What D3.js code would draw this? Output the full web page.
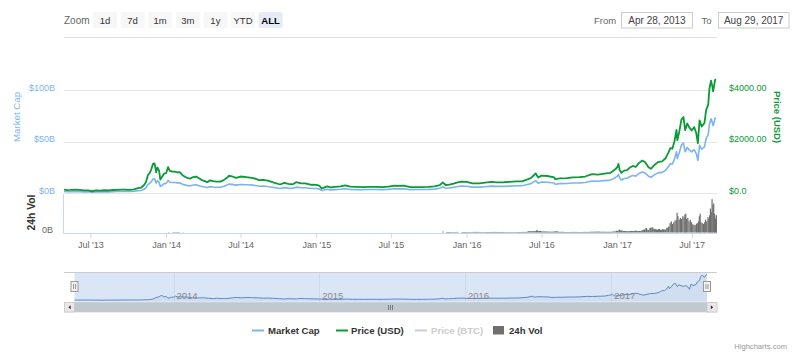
<!DOCTYPE html>
<html><head><meta charset="utf-8">
<script src="https://cdn.jsdelivr.net/npm/d3@7"></script>
<style>
html,body{margin:0;padding:0;background:#fff;}
svg{display:block;font-family:"Liberation Sans",Arial,sans-serif;}
</style></head><body>
<svg id="c" width="798" height="352"></svg>
<script>
// ---------------- DATA ----------------
const dates = [
 "2013-04-28","2013-05-05","2013-05-15","2013-05-25","2013-06-05","2013-06-15","2013-06-25","2013-07-05","2013-07-15","2013-07-25","2013-08-05","2013-08-15","2013-08-25","2013-09-05","2013-09-15","2013-09-25","2013-10-05","2013-10-15","2013-10-25","2013-11-01","2013-11-08","2013-11-13","2013-11-18","2013-11-22","2013-11-26","2013-11-30","2013-12-04","2013-12-08","2013-12-11","2013-12-15","2013-12-18","2013-12-22","2013-12-27",
 "2014-01-01","2014-01-06","2014-01-10","2014-01-16","2014-01-22","2014-01-28","2014-02-03","2014-02-10","2014-02-17","2014-02-23","2014-03-01","2014-03-08","2014-03-15","2014-03-22","2014-03-29","2014-04-05","2014-04-11","2014-04-18","2014-04-25","2014-05-03","2014-05-12","2014-05-20","2014-05-28","2014-06-03","2014-06-10","2014-06-20","2014-07-01","2014-07-15","2014-08-01","2014-08-15","2014-08-25","2014-09-05","2014-09-20","2014-10-05","2014-10-15","2014-10-25","2014-11-05","2014-11-13","2014-11-25","2014-12-05","2014-12-20",
 "2015-01-01","2015-01-08","2015-01-14","2015-01-20","2015-01-27","2015-02-05","2015-02-15","2015-03-01","2015-03-12","2015-03-25","2015-04-10","2015-04-25","2015-05-10","2015-05-25","2015-06-10","2015-06-25","2015-07-10","2015-07-20","2015-08-01","2015-08-18","2015-09-01","2015-09-15","2015-10-01","2015-10-15","2015-10-28","2015-11-04","2015-11-11","2015-11-20","2015-12-01","2015-12-10","2015-12-20",
 "2016-01-01","2016-01-15","2016-02-01","2016-02-15","2016-03-01","2016-03-15","2016-04-01","2016-04-15","2016-05-01","2016-05-15","2016-05-28","2016-06-05","2016-06-12","2016-06-17","2016-06-23","2016-07-01","2016-07-15","2016-08-01","2016-08-03","2016-08-15","2016-09-01","2016-09-15","2016-10-01","2016-10-15","2016-11-01","2016-11-15","2016-12-01","2016-12-15","2016-12-25",
 "2017-01-01","2017-01-04","2017-01-07","2017-01-11","2017-01-18","2017-01-25","2017-02-01","2017-02-08","2017-02-15","2017-02-23","2017-03-03","2017-03-10","2017-03-18","2017-03-24","2017-04-01","2017-04-10","2017-04-20","2017-04-28","2017-05-05","2017-05-10","2017-05-15","2017-05-20","2017-05-25","2017-05-27","2017-06-01","2017-06-06","2017-06-11","2017-06-15","2017-06-20","2017-06-25","2017-07-01","2017-07-07","2017-07-12","2017-07-16","2017-07-20","2017-07-25","2017-08-01","2017-08-05","2017-08-10","2017-08-13","2017-08-17","2017-08-20","2017-08-22","2017-08-27","2017-08-29"
];
const priceUSD = [
 135,115,118,131,121,100,102,68,98,95,106,98,117,125,128,133,122,143,185,205,300,420,700,775,910,1130,1147,800,990,870,520,620,750,
 770,1010,860,830,830,800,810,690,620,580,560,620,640,570,500,460,420,490,460,440,440,490,580,670,650,590,640,620,580,500,510,480,400,330,390,355,335,420,375,375,320,
 315,290,175,210,260,220,235,260,295,245,235,225,240,238,230,245,290,275,282,225,228,230,237,255,305,410,310,325,362,415,440,
 430,375,372,400,435,415,417,430,450,455,530,580,680,760,600,675,660,610,540,570,575,610,615,640,730,710,750,780,890,
 1000,1130,900,780,870,890,990,1050,1010,1170,1260,1190,1000,940,1080,1200,1230,1340,1560,1740,1720,2000,2450,2050,2400,2850,2950,2440,2700,2550,2430,2560,2330,1930,2820,2580,2720,3220,3420,4050,4360,4150,3950,4400,4420
];
const marketCapB = [
 1.50,1.28,1.32,1.46,1.36,1.13,1.15,0.77,1.11,1.08,1.21,1.12,1.35,1.44,1.48,1.55,1.43,1.68,2.18,2.43,3.56,5.00,8.34,9.25,10.88,13.54,13.76,9.62,11.91,10.48,6.27,7.49,9.08,
 9.33,12.27,10.47,10.13,10.15,9.81,9.96,8.51,7.66,7.19,6.96,7.72,7.99,7.13,6.27,5.78,5.29,6.19,5.82,5.59,5.61,6.26,7.44,8.61,8.37,7.62,8.30,8.08,7.60,6.58,6.73,6.36,5.32,4.41,5.23,4.77,4.52,5.68,5.09,5.10,4.37,
 4.32,3.98,2.41,2.90,3.59,3.05,3.27,3.63,4.13,3.44,3.32,3.19,3.42,3.40,3.30,3.53,4.20,3.99,4.11,3.29,3.35,3.39,3.51,3.79,4.54,6.12,4.63,4.87,5.44,6.25,6.64,
 6.51,5.70,5.67,6.12,6.69,6.40,6.46,6.68,7.02,7.12,8.32,9.12,10.71,11.99,9.47,10.68,10.46,9.68,8.57,9.06,9.16,9.73,9.83,10.24,11.69,11.39,12.05,12.54,14.33,
 16.08,18.18,14.49,12.56,14.02,14.36,16.00,16.99,16.36,18.97,20.44,19.31,16.24,15.28,17.57,19.54,20.05,21.86,25.46,28.41,28.10,32.70,40.08,33.54,39.29,46.68,48.35,39.99,44.28,41.85,39.90,42.06,38.31,31.75,46.39,42.47,44.80,53.07,56.40,66.83,71.98,68.56,65.25,72.73,73.11
];
const volDates = [
 "2014-01-06","2014-01-09","2014-01-16","2014-02-10","2014-02-13",
 "2015-11-03","2015-11-06","2015-11-12","2015-11-25","2015-12-08","2015-12-12","2015-12-20",
 "2016-01-01","2016-01-15","2016-02-01","2016-02-15","2016-03-01","2016-03-15","2016-04-01","2016-04-15","2016-05-01","2016-05-15","2016-05-28","2016-06-10","2016-06-17","2016-06-23","2016-07-01","2016-07-15","2016-08-01","2016-08-10","2016-08-25","2016-09-10","2016-09-25","2016-10-10","2016-10-25","2016-11-05","2016-11-20","2016-12-05","2016-12-20","2016-12-28",
 "2017-01-04","2017-01-08","2017-01-14","2017-01-22","2017-02-01","2017-02-10","2017-02-20","2017-03-01","2017-03-05","2017-03-10","2017-03-15","2017-03-20","2017-03-25","2017-03-30","2017-04-05","2017-04-10","2017-04-15","2017-04-20","2017-04-25","2017-04-30","2017-05-04","2017-05-08","2017-05-11","2017-05-14","2017-05-17","2017-05-20","2017-05-23","2017-05-25","2017-05-27","2017-05-30",
 "2017-06-02","2017-06-05","2017-06-08","2017-06-11","2017-06-13","2017-06-15","2017-06-17","2017-06-20","2017-06-23","2017-06-26","2017-06-29","2017-07-02","2017-07-05","2017-07-08","2017-07-11","2017-07-13","2017-07-16","2017-07-18","2017-07-20","2017-07-22","2017-07-25","2017-07-28","2017-07-31",
 "2017-08-02","2017-08-05","2017-08-08","2017-08-10","2017-08-12","2017-08-14","2017-08-16","2017-08-18","2017-08-20","2017-08-22","2017-08-24","2017-08-26","2017-08-28","2017-08-29"
];
const volumeB = [
 0.05,0.00,0.04,0.03,0.00,
 0.12,0.00,0.06,0.05,0.08,0.00,0.06,
 0.05,0.07,0.05,0.06,0.07,0.06,0.05,0.05,0.06,0.07,0.15,0.16,0.25,0.18,0.12,0.10,0.14,0.08,0.06,0.07,0.06,0.07,0.09,0.10,0.09,0.08,0.12,0.20,
 0.32,0.25,0.18,0.15,0.18,0.20,0.18,0.28,0.35,0.50,0.30,0.55,0.60,0.42,0.35,0.40,0.32,0.38,0.35,0.55,0.70,1.10,1.30,1.00,1.20,1.40,1.50,2.30,1.90,1.50,
 1.70,1.60,1.90,1.80,2.10,2.20,1.60,1.70,1.30,1.50,1.20,0.95,0.90,0.85,1.00,1.10,1.30,1.90,2.20,1.20,1.10,1.00,1.20,
 1.50,1.30,1.80,1.60,2.00,2.80,2.40,3.90,3.20,3.40,2.20,1.60,2.00,2.00
];
const xTickDates = ["2013-07-01","2014-01-01","2014-07-01","2015-01-01","2015-07-01","2016-01-01","2016-07-01","2017-01-01","2017-07-01"];
const xTickLabels = ["Jul '13","Jan '14","Jul '14","Jan '15","Jul '15","Jan '16","Jul '16","Jan '17","Jul '17"];
const capTicks = [0, 50, 100];
const capTickLabels = ["$0B", "$50B", "$100B"];
const priceTicks = [0, 2000, 4000];
const priceTickLabels = ["$0.0", "$2000.00", "$4000.00"];
const volTicks = [0];
const volTickLabels = ["0B"];
const navYearDates = ["2014-01-01","2015-01-01","2016-01-01","2017-01-01"];
const navYearLabels = ["2014","2015","2016","2017"];
const zoomButtons = ["1d","7d","1m","3m","1y","YTD","ALL"];
const selectedZoom = "ALL";
const fromLabel = "Apr 28, 2013", toLabel = "Aug 29, 2017";
const legendNames = ["Market Cap","Price (USD)","Price (BTC)","24h Vol"];
const domainStart = "2013-04-28", domainEnd = "2017-08-29";

// ---------------- SETUP ----------------
const parse = d3.timeParse("%Y-%m-%d");
const svg = d3.select("#c");
const C = {cap:"#7cb5ec", price:"#0a9a36", vol:"#6f6f6f", btc:"#cccccc", axis:"#ccd6eb", grid:"#e6e6e6", text:"#666"};
const F = "Liberation Sans, Arial, sans-serif";

const series = dates.map((d,i)=>({date:parse(d), price:priceUSD[i], cap:marketCapB[i]}));
const vols = volDates.map((d,i)=>({date:parse(d), v:volumeB[i]}));

const x = d3.scaleTime().domain([parse(domainStart), parse(domainEnd)]).range([64, 716]);
const yCap = d3.scaleLinear().domain([0,100]).range([193, 90]);
const yPrice = d3.scaleLinear().domain([0,4000]).range([193, 90]);
const yVol = d3.scaleLinear().domain([0,4.5]).range([232.5, 194]);
const xNav = d3.scaleTime().domain([parse(domainStart), parse(domainEnd)]).range([74.5, 707]);
const yNav = d3.scaleLinear().domain([0,75]).range([300.5, 274]);

// ---------------- RANGE SELECTOR ----------------
svg.append("text").attr("x",64).attr("y",23.5).attr("font-size",10).attr("fill","#666").attr("font-family",F).text("Zoom");
const zb = svg.append("g").selectAll("g").data(zoomButtons).join("g")
  .attr("transform",(d,i)=>`translate(${93+i*27.6},12)`);
zb.append("rect").attr("width",24).attr("height",16).attr("rx",2)
  .attr("fill",d=>d===selectedZoom?"#e6ebf5":"#f7f7f7");
zb.append("text").attr("x",12).attr("y",11.5).attr("text-anchor","middle").attr("font-size",9.5)
  .attr("font-family",F).attr("font-weight",d=>d===selectedZoom?"bold":"normal")
  .attr("fill",d=>d===selectedZoom?"#000":"#333").text(d=>d);

svg.append("text").attr("x",594).attr("y",23.5).attr("font-size",9.5).attr("fill","#666").attr("font-family",F).text("From");
svg.append("rect").attr("x",621.5).attr("y",12.5).attr("width",71).attr("height",15.5).attr("fill","#fff").attr("stroke","#ccc");
svg.append("text").attr("x",657).attr("y",23.5).attr("text-anchor","middle").attr("font-size",10).attr("fill","#444").attr("font-family",F).text(fromLabel);
svg.append("text").attr("x",701.5).attr("y",23.5).attr("font-size",9.5).attr("fill","#666").attr("font-family",F).text("To");
svg.append("rect").attr("x",718.5).attr("y",12.5).attr("width",70.5).attr("height",15.5).attr("fill","#fff").attr("stroke","#ccc");
svg.append("text").attr("x",753.7).attr("y",23.5).attr("text-anchor","middle").attr("font-size",10).attr("fill","#444").attr("font-family",F).text(toLabel);
svg.append("line").attr("x1",64).attr("x2",717).attr("y1",37.5).attr("y2",37.5).attr("stroke","#e0e0e0");

// ---------------- GRID ----------------
svg.append("g").selectAll("line").data(capTicks).join("line")
  .attr("x1",64).attr("x2",717).attr("y1",d=>Math.round(yCap(d))+0.5).attr("y2",d=>Math.round(yCap(d))+0.5)
  .attr("stroke",C.grid);

const gL = svg.append("g").attr("transform","translate(55,0)")
  .call(d3.axisLeft(yCap).tickValues(capTicks).tickFormat((d,i)=>capTickLabels[i]).tickSize(0).tickPadding(0));
gL.select(".domain").remove();
gL.selectAll("text").attr("fill",C.cap).attr("font-size",9).attr("font-family",F).attr("dy","0.05em");

const gR = svg.append("g").attr("transform","translate(729,0)")
  .call(d3.axisRight(yPrice).tickValues(priceTicks).tickFormat((d,i)=>priceTickLabels[i]).tickSize(0).tickPadding(0));
gR.select(".domain").remove();
gR.selectAll("text").attr("fill",C.price).attr("font-size",9).attr("font-family",F).attr("dy","0.05em");

const gV = svg.append("g").attr("transform","translate(53,0)")
  .call(d3.axisLeft(yVol).tickValues(volTicks).tickFormat((d,i)=>volTickLabels[i]).tickSize(0).tickPadding(0));
gV.select(".domain").remove();
gV.selectAll("text").attr("fill","#666").attr("font-size",9).attr("font-family",F).attr("dy","0.05em");

svg.append("text").attr("transform","translate(20,117) rotate(-90)").attr("text-anchor","middle")
  .attr("font-size",9.7).attr("fill",C.cap).attr("font-family",F).text("Market Cap");
svg.append("text").attr("transform","translate(774,117) rotate(90)").attr("text-anchor","middle")
  .attr("font-size",9.5).attr("font-weight","bold").attr("fill",C.price).attr("font-family",F).text("Price (USD)");
svg.append("text").attr("transform","translate(34.5,212.5) rotate(-90)").attr("text-anchor","middle")
  .attr("font-size",10.3).attr("font-weight","bold").attr("fill","#333").attr("font-family",F).text("24h Vol");

// ---------------- VOLUME ----------------
svg.append("defs").append("clipPath").attr("id","pc").append("rect").attr("x",64).attr("y",60).attr("width",653).attr("height",175);
const vg = svg.append("g").attr("clip-path","url(#pc)");
vg.selectAll("rect").data(vols.filter(d=>d.v>0)).join("rect")
  .attr("x",d=>x(d.date))
  .attr("width",d=>{const i=vols.indexOf(d); return Math.max(1.2, (i<vols.length-1? Math.min(8, x(vols[i+1].date)-x(d.date)) : 1.5));})
  .attr("y",d=>yVol(d.v)).attr("height",d=>yVol(0)-yVol(d.v))
  .attr("fill",C.vol);

svg.append("line").attr("x1",63.5).attr("x2",63.5).attr("y1",194).attr("y2",233).attr("stroke",C.axis);
const gX = svg.append("g").attr("transform","translate(0,233)")
  .call(d3.axisBottom(x).tickValues(xTickDates.map(parse)).tickFormat((d,i)=>xTickLabels[i]).tickSize(5).tickPadding(4));
gX.select(".domain").attr("d","M63.5,0.5H717").attr("stroke",C.axis);
gX.selectAll(".tick line").attr("stroke",C.axis);
gX.selectAll("text").attr("fill","#666").attr("font-size",9).attr("font-family",F);

// ---------------- LINES ----------------
const lg = svg.append("g").attr("clip-path","url(#pc)");
lg.append("path").datum(series).attr("fill","none").attr("stroke",C.cap).attr("stroke-width",1.6)
  .attr("stroke-linejoin","round")
  .attr("d",d3.line().x(d=>x(d.date)).y(d=>yCap(d.cap)));
lg.append("path").datum(series).attr("fill","none").attr("stroke",C.price).attr("stroke-width",1.8)
  .attr("stroke-linejoin","round")
  .attr("d",d3.line().x(d=>x(d.date)).y(d=>yPrice(d.price)));

// ---------------- NAVIGATOR ----------------
svg.append("rect").attr("x",74.5).attr("y",272).attr("width",632.5).attr("height",30).attr("fill","#dae5f5");
svg.append("g").selectAll("line").data(navYearDates).join("line")
  .attr("x1",d=>Math.round(xNav(parse(d)))+0.5).attr("x2",d=>Math.round(xNav(parse(d)))+0.5)
  .attr("y1",272).attr("y2",302).attr("stroke","#cfd9e8");
svg.append("path").datum(series).attr("fill","rgba(69,114,167,0.06)")
  .attr("d",d3.area().x(d=>xNav(d.date)).y0(301).y1(d=>yNav(d.cap)));
svg.append("path").datum(series).attr("fill","none").attr("stroke","#5d8ac7").attr("stroke-width",1)
  .attr("d",d3.line().x(d=>xNav(d.date)).y(d=>yNav(d.cap)));
svg.append("g").selectAll("text").data(navYearDates).join("text")
  .attr("x",d=>xNav(parse(d))+3).attr("y",298.5).attr("font-size",9.5).attr("fill","#888").attr("font-family",F)
  .text((d,i)=>navYearLabels[i]);
svg.append("line").attr("x1",64).attr("x2",717).attr("y1",272.5).attr("y2",272.5).attr("stroke","#ccc");
[74.5,707].forEach(hx=>{
  svg.append("rect").attr("x",hx-3.5).attr("y",281.5).attr("width",7).attr("height",10).attr("fill","#f2f2f2").attr("stroke","#999");
  svg.append("line").attr("x1",hx-1).attr("x2",hx-1).attr("y1",284).attr("y2",289).attr("stroke","#999");
  svg.append("line").attr("x1",hx+1).attr("x2",hx+1).attr("y1",284).attr("y2",289).attr("stroke","#999");
});
svg.append("rect").attr("x",64.5).attr("y",302.5).attr("width",652).attr("height",9.5).attr("fill","#f2f2f2").attr("stroke","#ddd");
svg.append("rect").attr("x",74.5).attr("y",302.5).attr("width",632.5).attr("height",9.5).attr("fill","#c0c8d0");
[64.5,707].forEach((bx,i)=>{
  svg.append("rect").attr("x",bx).attr("y",302.5).attr("width",10).attr("height",9.5).attr("fill","#ebe7e8").attr("stroke","#ccc");
  const cx = bx+5, cy = 307.25;
  svg.append("path").attr("d", i===0 ? `M${cx+1.2},${cy-2}L${cx-1.2},${cy}L${cx+1.2},${cy+2}Z` : `M${cx-1.2},${cy-2}L${cx+1.2},${cy}L${cx-1.2},${cy+2}Z`).attr("fill","#333");
});
[-2,0,2].forEach(o=>{
  svg.append("line").attr("x1",390.5+o).attr("x2",390.5+o).attr("y1",305).attr("y2",310).attr("stroke","#666").attr("stroke-width",0.8);
});

// ---------------- LEGEND ----------------
const legendLayout = [
  {sym:"line", sx:252, tx:268, color:C.cap, tcol:"#333"},
  {sym:"line", sx:336, tx:351, color:C.price, tcol:"#333"},
  {sym:"line", sx:415, tx:431, color:C.btc, tcol:"#ccc"},
  {sym:"rect", sx:493, tx:509, color:C.vol, tcol:"#333"}
];
legendNames.forEach((n,i)=>{
  const L = legendLayout[i];
  if(L.sym==="line") svg.append("line").attr("x1",L.sx).attr("x2",L.sx+12).attr("y1",330.5).attr("y2",330.5).attr("stroke",L.color).attr("stroke-width",2);
  else svg.append("rect").attr("x",L.sx).attr("y",326).attr("width",11).attr("height",8.5).attr("fill",L.color);
  svg.append("text").attr("x",L.tx).attr("y",334).attr("font-size",9.6).attr("font-weight","bold").attr("fill",L.tcol).attr("font-family",F).text(n);
});

svg.append("text").attr("x",787).attr("y",349).attr("text-anchor","end").attr("font-size",7.6).attr("fill","#999").attr("font-family",F).text("Highcharts.com");
</script>
</body></html>
